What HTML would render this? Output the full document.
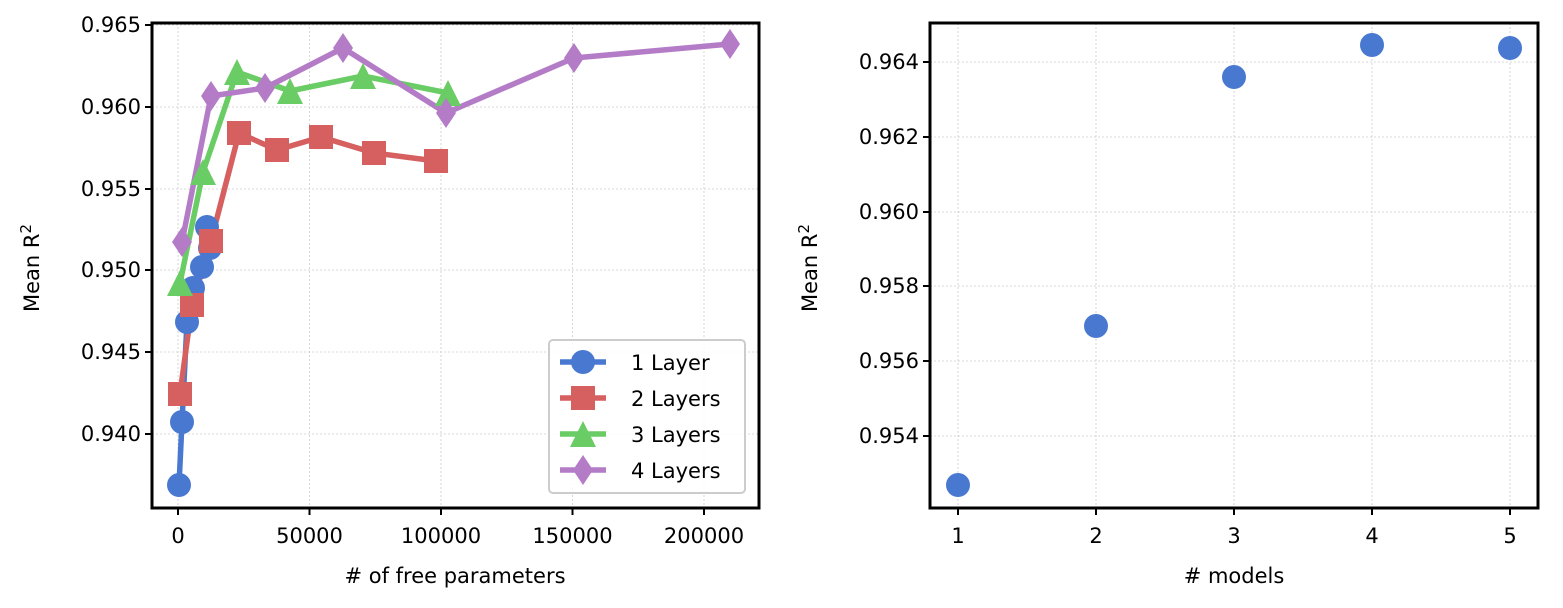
<!DOCTYPE html><html><head><style>body{margin:0;background:#fff}</style></head><body>
<svg width="1563" height="603" xmlns="http://www.w3.org/2000/svg" font-family="DejaVu Sans, Liberation Sans, sans-serif" font-size="21">
<g stroke="#ccc" stroke-width="0.8" stroke-dasharray="2,2">
<line x1="178" y1="23" x2="178" y2="508"/><line x1="309.5" y1="23" x2="309.5" y2="508"/><line x1="441" y1="23" x2="441" y2="508"/><line x1="572.5" y1="23" x2="572.5" y2="508"/><line x1="704" y1="23" x2="704" y2="508"/>
<line x1="152" y1="25" x2="759" y2="25"/><line x1="152" y1="107" x2="759" y2="107"/><line x1="152" y1="189" x2="759" y2="189"/><line x1="152" y1="270" x2="759" y2="270"/><line x1="152" y1="352" x2="759" y2="352"/><line x1="152" y1="434" x2="759" y2="434"/>
<line x1="958" y1="23" x2="958" y2="508"/><line x1="1096" y1="23" x2="1096" y2="508"/><line x1="1234" y1="23" x2="1234" y2="508"/><line x1="1372" y1="23" x2="1372" y2="508"/><line x1="1510" y1="23" x2="1510" y2="508"/>
<line x1="930" y1="62" x2="1538" y2="62"/><line x1="930" y1="137" x2="1538" y2="137"/><line x1="930" y1="212" x2="1538" y2="212"/><line x1="930" y1="286" x2="1538" y2="286"/><line x1="930" y1="361" x2="1538" y2="361"/><line x1="930" y1="436" x2="1538" y2="436"/>
</g>
<g fill="none" stroke-width="5.5" stroke-linejoin="round">
<polyline stroke="#4878d0" points="179,485 182,422 187,322 193,288 202,267 207,227 210,248"/>
<polyline stroke="#d65f5f" points="180,394 192,305 211,241 239,133 277,150 321,137 374,153 436,161"/>
<polyline stroke="#6acc64" points="180,283 203,172 237,72 290,91 363,76 448,93"/>
<polyline stroke="#b47cc7" points="182,242 211,96 265,88 343,48 446,113 574,58 730,44"/>
</g>
<g fill="#4878d0"><circle cx="179" cy="485" r="12"/><circle cx="182" cy="422" r="12"/><circle cx="187" cy="322" r="12"/><circle cx="193" cy="288" r="12"/><circle cx="202" cy="267" r="12"/><circle cx="207" cy="227" r="12"/><circle cx="210" cy="248" r="12"/></g>
<g fill="#d65f5f"><rect x="168" y="382" width="24" height="24"/><rect x="180" y="293" width="24" height="24"/><rect x="199" y="229" width="24" height="24"/><rect x="227" y="121" width="24" height="24"/><rect x="265" y="138" width="24" height="24"/><rect x="309" y="125" width="24" height="24"/><rect x="362" y="141" width="24" height="24"/><rect x="424" y="149" width="24" height="24"/></g>
<g fill="#6acc64"><polygon points="180,270 193,296 167,296"/><polygon points="203,159 216,185 190,185"/><polygon points="237,59 250,85 224,85"/><polygon points="290,78 303,104 277,104"/><polygon points="363,63 376,89 350,89"/><polygon points="448,80 461,106 435,106"/></g>
<g fill="#b47cc7"><polygon points="182,227 192,242 182,257 172,242"/><polygon points="211,81 221,96 211,111 201,96"/><polygon points="265,73 275,88 265,103 255,88"/><polygon points="343,33 353,48 343,63 333,48"/><polygon points="446,98 456,113 446,128 436,113"/><polygon points="574,43 584,58 574,73 564,58"/><polygon points="730,29 740,44 730,59 720,44"/></g>
<g fill="#4878d0"><circle cx="958" cy="485" r="12"/><circle cx="1096" cy="326" r="12"/><circle cx="1234" cy="77" r="12"/><circle cx="1372" cy="45" r="12"/><circle cx="1510" cy="48" r="12"/></g>
<rect x="549" y="340" width="196" height="153" rx="4" fill="#fff" fill-opacity="0.85" stroke="#ccc" stroke-width="2"/>
<g stroke-width="5.5"><line x1="560" y1="362" x2="606" y2="362" stroke="#4878d0"/><line x1="560" y1="398" x2="606" y2="398" stroke="#d65f5f"/><line x1="560" y1="434" x2="606" y2="434" stroke="#6acc64"/><line x1="560" y1="470" x2="606" y2="470" stroke="#b47cc7"/></g>
<circle cx="583" cy="362" r="12" fill="#4878d0"/><rect x="571" y="386" width="24" height="24" fill="#d65f5f"/><polygon points="583,421 596,447 570,447" fill="#6acc64"/><polygon points="583,455 593,470 583,485 573,470" fill="#b47cc7"/>
<g fill="#000"><text x="631" y="370">1 Layer</text><text x="631" y="406">2 Layers</text><text x="631" y="442">3 Layers</text><text x="631" y="478">4 Layers</text></g>
<g fill="none" stroke="#000" stroke-width="3"><rect x="152" y="23" width="607" height="485"/><rect x="930" y="23" width="608" height="485"/></g>
<g stroke="#000" stroke-width="2">
<line x1="178" y1="508" x2="178" y2="515"/><line x1="309.5" y1="508" x2="309.5" y2="515"/><line x1="441" y1="508" x2="441" y2="515"/><line x1="572.5" y1="508" x2="572.5" y2="515"/><line x1="704" y1="508" x2="704" y2="515"/>
<line x1="145" y1="25" x2="152" y2="25"/><line x1="145" y1="107" x2="152" y2="107"/><line x1="145" y1="189" x2="152" y2="189"/><line x1="145" y1="270" x2="152" y2="270"/><line x1="145" y1="352" x2="152" y2="352"/><line x1="145" y1="434" x2="152" y2="434"/>
<line x1="958" y1="508" x2="958" y2="515"/><line x1="1096" y1="508" x2="1096" y2="515"/><line x1="1234" y1="508" x2="1234" y2="515"/><line x1="1372" y1="508" x2="1372" y2="515"/><line x1="1510" y1="508" x2="1510" y2="515"/>
<line x1="923" y1="62" x2="930" y2="62"/><line x1="923" y1="137" x2="930" y2="137"/><line x1="923" y1="212" x2="930" y2="212"/><line x1="923" y1="286" x2="930" y2="286"/><line x1="923" y1="361" x2="930" y2="361"/><line x1="923" y1="436" x2="930" y2="436"/>
</g>
<g fill="#000" text-anchor="middle">
<text x="178" y="543">0</text><text x="309.5" y="543">50000</text><text x="441" y="543">100000</text><text x="572.5" y="543">150000</text><text x="704" y="543">200000</text>
<text x="455" y="583">#  of free parameters</text>
<text x="958" y="543">1</text><text x="1096" y="543">2</text><text x="1234" y="543">3</text><text x="1372" y="543">4</text><text x="1510" y="543">5</text>
<text x="1234" y="583"># models</text>
</g>
<g fill="#000" text-anchor="end">
<text x="141" y="32">0.965</text><text x="141" y="114">0.960</text><text x="141" y="196">0.955</text><text x="141" y="277">0.950</text><text x="141" y="359">0.945</text><text x="141" y="441">0.940</text>
<text x="919" y="69">0.964</text><text x="919" y="144">0.962</text><text x="919" y="219">0.960</text><text x="919" y="293">0.958</text><text x="919" y="368">0.956</text><text x="919" y="443">0.954</text>
</g>
<text transform="translate(39,268) rotate(-90)" text-anchor="middle" fill="#000">Mean R<tspan dy="-8" font-size="15">2</tspan></text>
<text transform="translate(817,268) rotate(-90)" text-anchor="middle" fill="#000">Mean R<tspan dy="-8" font-size="15">2</tspan></text>
</svg></body></html>
